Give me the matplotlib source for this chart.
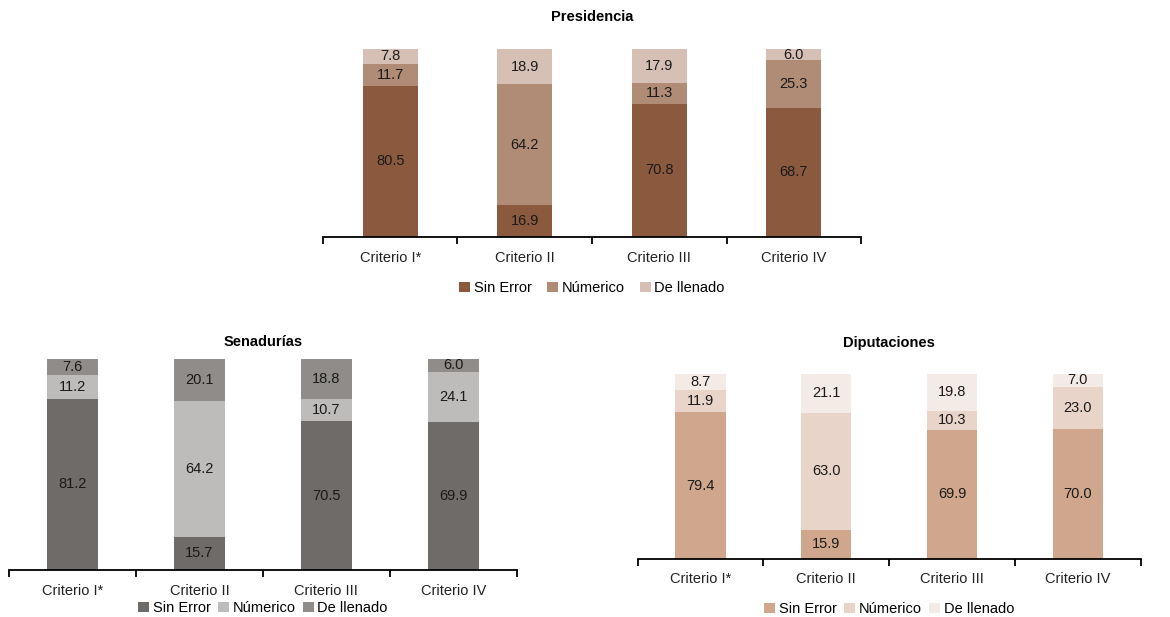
import matplotlib.pyplot as plt
import numpy as np

plt.rcParams['font.family'] = ['Liberation Sans', 'DejaVu Sans']

# data
criterios = ['Criterio I*', 'Criterio II', 'Criterio III', 'Criterio IV']
series = ['Sin Error', 'Númerico', 'De llenado']

pres_sin = [80.5, 16.9, 70.8, 68.7]
pres_num = [11.7, 64.2, 11.3, 25.3]
pres_llen = [7.8, 18.9, 17.9, 6.0]

sen_sin = [81.2, 15.7, 70.5, 69.9]
sen_num = [11.2, 64.2, 10.7, 24.1]
sen_llen = [7.6, 20.1, 18.8, 6.0]

dip_sin = [79.4, 15.9, 69.9, 70.0]
dip_num = [11.9, 63.0, 10.3, 23.0]
dip_llen = [8.7, 21.1, 19.8, 7.0]

pres_colors = ['#8b5a3e', '#b08b75', '#d6c0b6']
sen_colors = ['#6e6b69', '#bdbcbb', '#8f8c8a']
dip_colors = ['#d0a78c', '#e8d4c9', '#f5ebe6']

fig = plt.figure(figsize=(11.7, 6.17), dpi=100)


def stacked(rect, title, title_y, vals, colors, bar_w, leg_y, colsp, pad):
    ax = fig.add_axes(rect)
    x = np.arange(len(criterios))
    bottom = np.zeros(len(criterios))
    handles = []
    for v, c, name in zip(vals, colors, series):
        b = ax.bar(x, v, bar_w, bottom=bottom, color=c, label=name)
        handles.append(b)
        for xi, vi, bi in zip(x, v, bottom):
            ax.text(xi, bi + vi / 2, f'{vi:.1f}', ha='center', va='center',
                    fontsize=10.5, color='#1a1a1a')
        bottom += np.array(v)
    ax.set_xlim(-0.5, len(criterios) - 0.5)
    ax.set_ylim(0, 100)
    ax.set_yticks([])
    for s in ['top', 'right', 'left']:
        ax.spines[s].set_visible(False)
    ax.spines['bottom'].set_linewidth(1.3)
    ax.set_xticks(x)
    ax.set_xticklabels(criterios, fontsize=10.5, color='#222222')
    ax.tick_params(axis='x', which='major', length=0, pad=pad)
    ax.set_xticks(np.arange(-0.5, len(criterios)), minor=True)
    ax.tick_params(axis='x', which='minor', length=5, width=1.3, direction='out')
    cx = rect[0] + rect[2] / 2
    fig.text(cx, title_y, title, ha='center', va='center', fontsize=10.5,
             fontweight='bold')
    fig.legend(handles=handles, loc='center', bbox_to_anchor=(cx, leg_y),
               ncol=3, frameon=False, fontsize=10.5, handlelength=0.75,
               handleheight=0.75, handletextpad=0.25, columnspacing=colsp)
    return ax


stacked([0.276, 0.616, 0.460, 0.3047], 'Presidencia', 0.972,
        [pres_sin, pres_num, pres_llen], pres_colors, 0.41, 0.533, 1.05, 10)
stacked([0.0077, 0.0762, 0.434, 0.342], 'Senadurías', 0.446,
        [sen_sin, sen_num, sen_llen], sen_colors, 0.40, 0.0146, 0.5, 10)
stacked([0.545, 0.094, 0.430, 0.300], 'Diputaciones', 0.444,
        [dip_sin, dip_num, dip_llen], dip_colors, 0.40, 0.013, 0.5, 9)

fig.savefig('out.png', dpi=100)
